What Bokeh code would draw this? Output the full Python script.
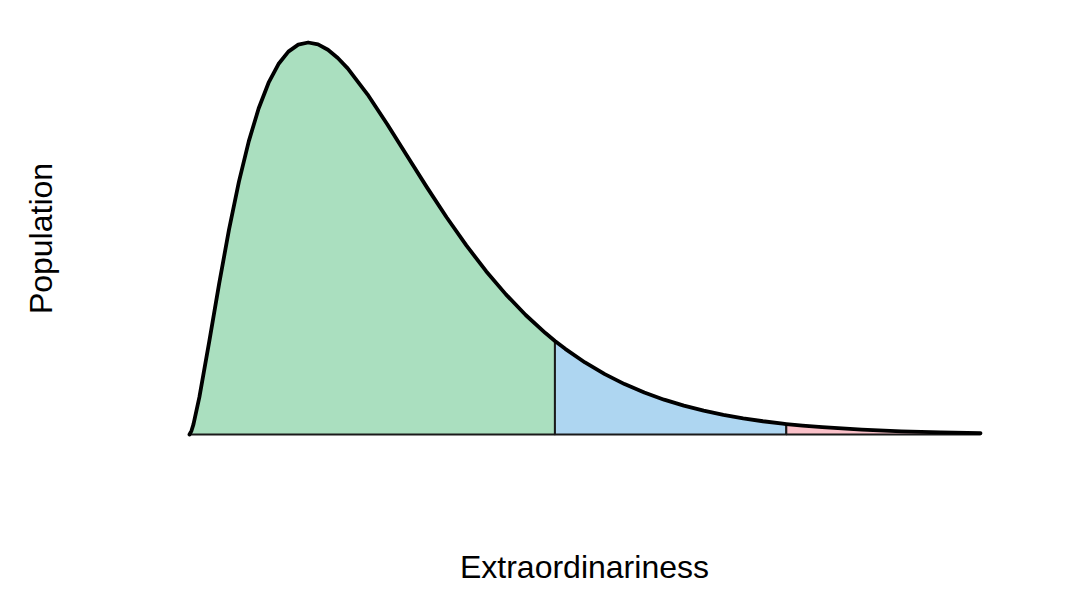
from bokeh.plotting import figure
from bokeh.models import Range1d
from bokeh.core.properties import value
from bokeh.embed import file_html
from bokeh.resources import INLINE

# Density curve (x: extraordinariness, y: population density)
curve_x = [0, 0.05, 0.1, 0.25, 0.5, 0.75, 1.0, 1.25, 1.5, 1.75, 2.0, 2.25, 2.5, 2.75,
           3.0, 3.25, 3.5, 3.75, 4.0, 4.5, 5.0, 5.5, 6.0, 6.5, 7.0, 7.5, 8.0, 8.5,
           9.0, 9.24, 9.5, 10.0, 10.5, 11.0, 11.5, 12.0, 12.5, 13.0, 13.5, 14.0,
           14.5, 15.0, 15.09, 15.5, 16.0, 17.0, 18.0, 19.0, 20.0]
curve_y = [0, 0.00145, 0.0040, 0.01467, 0.03662, 0.05936, 0.08066, 0.09947, 0.11540,
           0.12833, 0.13837, 0.14571, 0.15060, 0.15333, 0.15418, 0.15342, 0.15131,
           0.14809, 0.14398, 0.13380, 0.12204, 0.10965, 0.09730, 0.08545, 0.07437,
           0.06424, 0.05511, 0.04701, 0.03989, 0.03680, 0.03369, 0.02833, 0.02374,
           0.01983, 0.01651, 0.01370, 0.01135, 0.00937, 0.00772, 0.00635, 0.00521,
           0.00427, 0.00412, 0.00350, 0.00286, 0.00190, 0.00125, 0.00082, 0.00054]

# Region boundaries and colours
cutoffs = [9.24, 15.09]
region_colors = ["#AADFBF", "#AED6F1", "#FBC1C9"]
x_label = "Extraordinariness"
y_label = "Population"

p = figure(width=1084, height=595, output_backend="svg", toolbar_location=None,
           min_border=0)
p.x_range = Range1d(-4.7788, 22.630)
p.y_range = Range1d(-0.063323, 0.170698)
p.xaxis.visible = False
p.yaxis.visible = False
p.grid.visible = False
p.outline_line_color = None
p.background_fill_color = "white"
p.border_fill_color = "white"

edges = [curve_x[0]] + cutoffs + [curve_x[-1]]
for i in range(len(edges) - 1):
    a, b = edges[i], edges[i + 1]
    xs = [x for x in curve_x if a <= x <= b]
    ys = [y for x, y in zip(curve_x, curve_y) if a <= x <= b]
    px = [a] + xs + [b]
    py = [0] + ys + [0]
    p.patch(px, py, fill_color=region_colors[i], line_color="#1a1a1a", line_width=2.0)

p.line(curve_x, curve_y, line_color="black", line_width=3.8, line_join="round",
       line_cap="round")

p.text(x=[9.987], y=[-0.05231], text=[x_label], text_align="center",
       text_baseline="alphabetic", text_font=value("Liberation Sans"),
       text_font_size="32px", text_color="black")
p.text(x=[-3.7497], y=[0.077089], text=[y_label], text_align="center",
       text_baseline="alphabetic", angle=1.5707963, text_font=value("Liberation Sans"),
       text_font_size="32px", text_color="black")

open("out.html", "w").write(file_html(p, INLINE))
